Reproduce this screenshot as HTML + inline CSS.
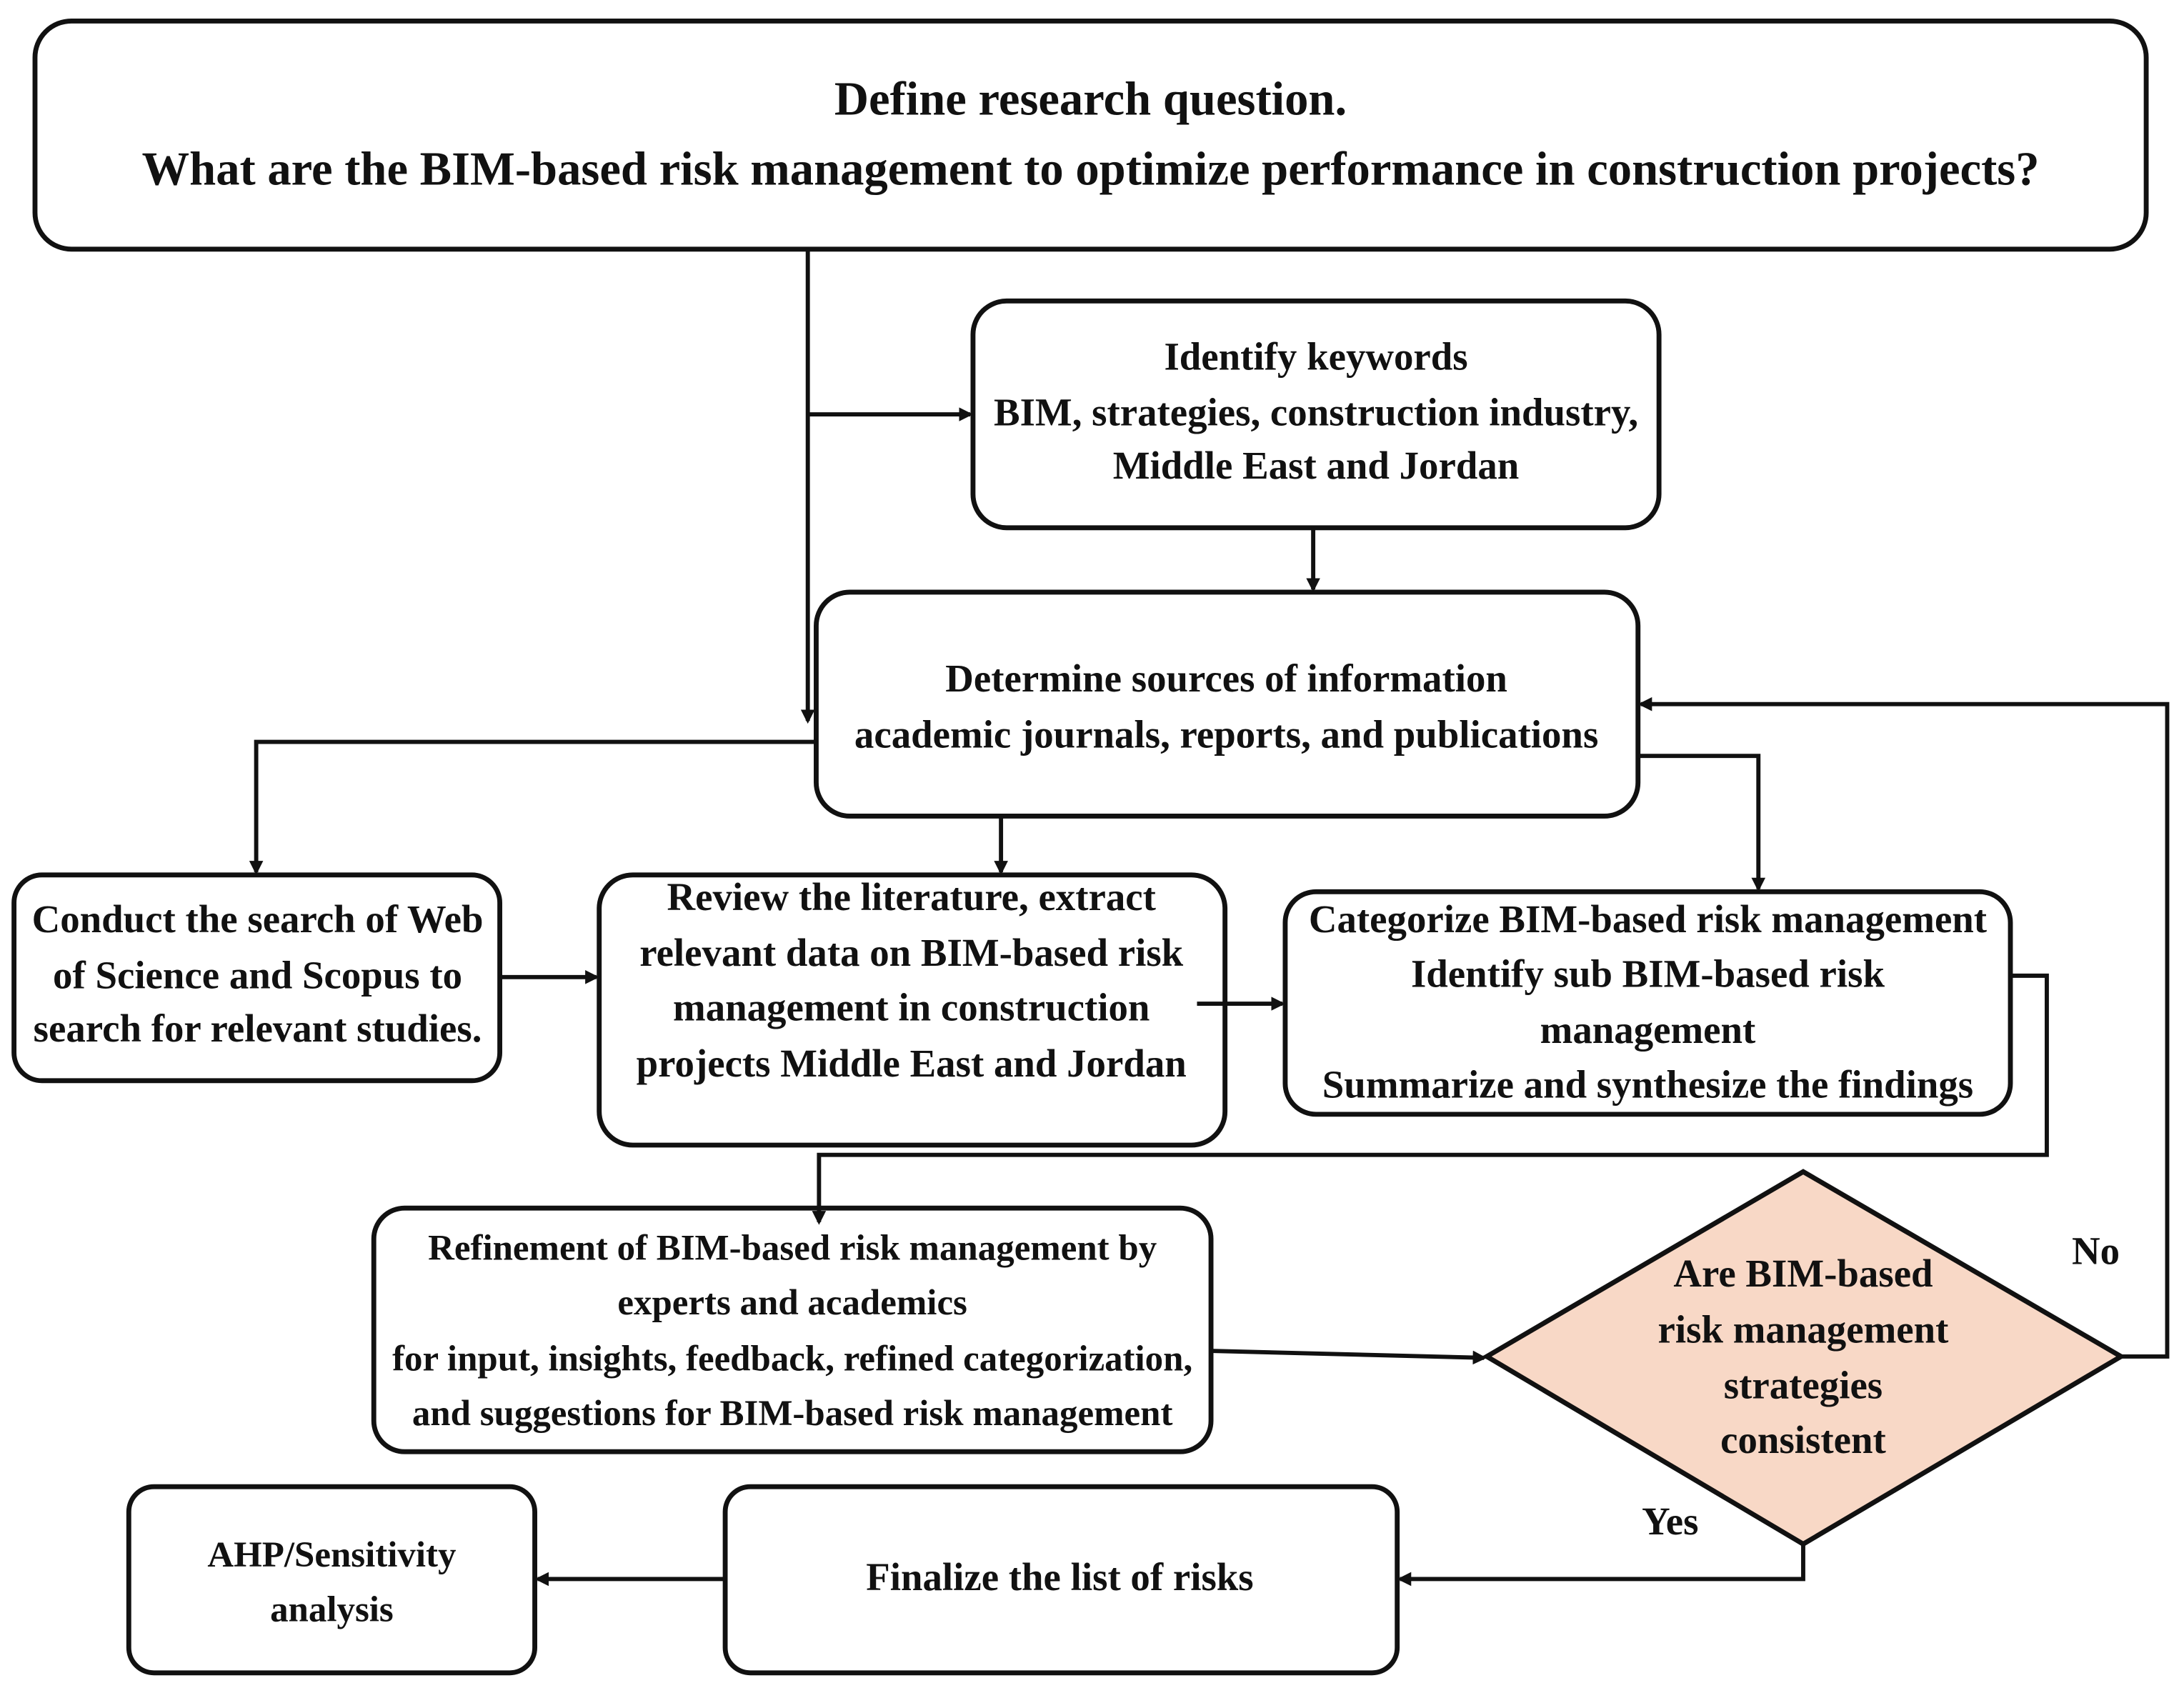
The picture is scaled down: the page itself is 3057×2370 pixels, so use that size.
<!DOCTYPE html>
<html><head><meta charset="utf-8"><style>
html,body{margin:0;padding:0;background:#fff;}
svg{display:block;}
text{font-family:"Liberation Serif",serif;font-weight:bold;fill:#111;text-anchor:middle;}
</style></head><body>
<svg width="3057" height="2370" viewBox="0 0 1560 1209.4" preserveAspectRatio="none" xmlns="http://www.w3.org/2000/svg">
<defs><marker id="a" markerWidth="10" markerHeight="10" refX="8" refY="5" orient="auto" markerUnits="userSpaceOnUse"><path d="M0,0 L10,5 L0,10 z" fill="#111"/></marker></defs>
<g fill="none" stroke="#111" stroke-width="3.5">
<rect x="25" y="15" width="1508" height="163" rx="26"/>
<rect x="695" y="215" width="490" height="162" rx="24"/>
<rect x="583" y="423" width="587" height="160" rx="24"/>
<rect x="10" y="625" width="347" height="147" rx="20"/>
<rect x="428" y="625" width="447" height="193" rx="24"/>
<rect x="918" y="637" width="518" height="159" rx="22"/>
<rect x="267" y="863" width="598" height="174" rx="22"/>
<rect x="92" y="1062" width="290" height="133" rx="18"/>
<rect x="518" y="1062" width="480" height="133" rx="18"/>
<polygon points="1062,969 1288,837 1515,969 1288,1103" fill="#f8d8c6"/>
</g>
<g fill="none" stroke="#111" stroke-width="3" marker-end="url(#a)">
<path d="M577,178 V515"/>
<path d="M577,296 H693"/>
<path d="M938,377 V421"/>
<path d="M583,530 H183 V623"/>
<path d="M715,583 V623"/>
<path d="M1170,540 H1256 V635"/>
<path d="M357,698 H426"/>
<path d="M855,717 H916"/>
<path d="M1436,697 H1462 V825 H585 V873"/>
<path d="M865,965 L1060,970"/>
<path d="M1515,969 H1548 V503 H1172"/>
<path d="M1288,1103 V1128 H1000"/>
<path d="M518,1128 H384"/>
</g>
<g font-size="34">
<text x="779" y="82">Define research question.</text>
<text x="779" y="132">What are the BIM-based risk management to optimize performance in construction projects?</text>
</g>
<g font-size="28">
<text x="940" y="264">Identify keywords</text>
<text x="940" y="304">BIM, strategies, construction industry,</text>
<text x="940" y="342">Middle East and Jordan</text>
<text x="876" y="494">Determine sources of information</text>
<text x="876" y="534">academic journals, reports, and publications</text>
<text x="184" y="666">Conduct the search of Web</text>
<text x="184" y="706">of Science and Scopus to</text>
<text x="184" y="744">search for relevant studies.</text>
<text x="651" y="650">Review the literature, extract</text>
<text x="651" y="690">relevant data on BIM-based risk</text>
<text x="651" y="729">management in construction</text>
<text x="651" y="769">projects Middle East and Jordan</text>
<text x="1177" y="666">Categorize BIM-based risk management</text>
<text x="1177" y="705">Identify sub BIM-based risk</text>
<text x="1177" y="745">management</text>
<text x="1177" y="784">Summarize and synthesize the findings</text>
<text x="1288" y="919">Are BIM-based</text>
<text x="1288" y="959">risk management</text>
<text x="1288" y="999">strategies</text>
<text x="1288" y="1038">consistent</text>
<text x="757" y="1136">Finalize the list of risks</text>
<text x="1497" y="903">No</text>
<text x="1193" y="1096">Yes</text>
</g>
<g font-size="26">
<text x="566" y="900">Refinement of BIM-based risk management by</text>
<text x="566" y="939">experts and academics</text>
<text x="566" y="979">for input, insights, feedback, refined categorization,</text>
<text x="566" y="1018">and suggestions for BIM-based risk management</text>
<text x="237" y="1119">AHP/Sensitivity</text>
<text x="237" y="1158">analysis</text>
</g>
</svg>
</body></html>
